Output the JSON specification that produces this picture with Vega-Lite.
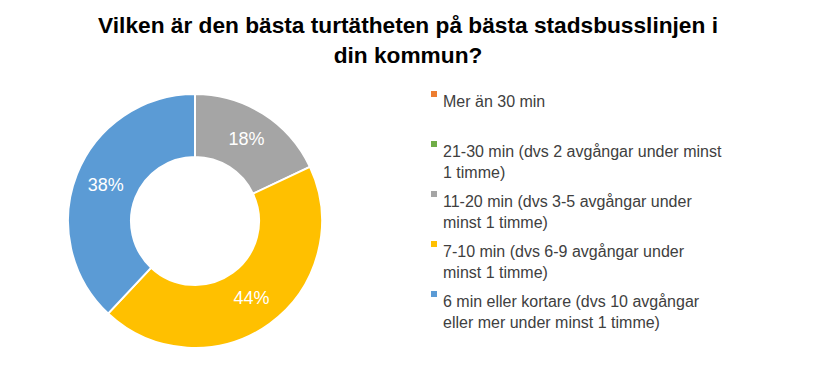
{
  "$schema": "https://vega.github.io/schema/vega-lite/v6.json",
  "autosize": {"type": "none"},
  "padding": {"left": 0, "top": 86, "right": 426, "bottom": 17},
  "width": 390,
  "height": 270,
  "background": "white",
  "title": {
    "text": ["Vilken är den bästa turtätheten på bästa stadsbusslinjen i", "din kommun?"],
    "font": "Liberation Sans",
    "fontSize": 22.7,
    "fontWeight": "bold",
    "color": "#000000",
    "anchor": "middle",
    "frame": "group",
    "dx": 213,
    "offset": 18,
    "lineHeight": 30
  },
  "data": {
    "values": [
      {"kategori": "Mer än 30 min", "ordning": 1, "andel": 0},
      {"kategori": "21-30 min (dvs 2 avgångar under minst 1 timme)", "ordning": 2, "andel": 0},
      {"kategori": "11-20 min (dvs 3-5 avgångar under minst 1 timme)", "ordning": 3, "andel": 0.18},
      {"kategori": "7-10 min (dvs 6-9 avgångar under minst 1 timme)", "ordning": 4, "andel": 0.44},
      {"kategori": "6 min eller kortare (dvs 10 avgångar eller mer under minst 1 timme)", "ordning": 5, "andel": 0.38}
    ]
  },
  "encoding": {
    "theta": {"field": "andel", "type": "quantitative", "stack": true},
    "order": {"field": "ordning", "type": "quantitative"}
  },
  "layer": [
    {
      "mark": {"type": "arc", "outerRadius": 127, "innerRadius": 64, "stroke": "white", "strokeWidth": 2},
      "encoding": {
        "color": {
          "field": "kategori",
          "type": "nominal",
          "sort": {"field": "ordning"},
          "scale": {
            "domain": [
              "Mer än 30 min",
              "21-30 min (dvs 2 avgångar under minst 1 timme)",
              "11-20 min (dvs 3-5 avgångar under minst 1 timme)",
              "7-10 min (dvs 6-9 avgångar under minst 1 timme)",
              "6 min eller kortare (dvs 10 avgångar eller mer under minst 1 timme)"
            ],
            "range": ["#ED7D31", "#70AD47", "#A5A5A5", "#FFC000", "#5B9BD5"]
          },
          "legend": {
            "title": null,
            "orient": "none",
            "legendX": 426,
            "legendY": 0,
            "symbolType": "square",
            "symbolSize": 36,
            "symbolStrokeWidth": 0,
            "symbolOffset": 0,
            "labelFont": "Liberation Sans",
            "labelFontSize": 16,
            "labelColor": "#404040",
            "labelLimit": 400,
            "labelOffset": 1,
            "labelBaseline": "top",
            "rowPadding": 5,
            "labelExpr": "datum.label == '21-30 min (dvs 2 avgångar under minst 1 timme)' ? ['21-30 min (dvs 2 avgångar under minst', '1 timme)'] : datum.label == '11-20 min (dvs 3-5 avgångar under minst 1 timme)' ? ['11-20 min (dvs 3-5 avgångar under', 'minst 1 timme)'] : datum.label == '7-10 min (dvs 6-9 avgångar under minst 1 timme)' ? ['7-10 min (dvs 6-9 avgångar under', 'minst 1 timme)'] : datum.label == '6 min eller kortare (dvs 10 avgångar eller mer under minst 1 timme)' ? ['6 min eller kortare (dvs 10 avgångar', 'eller mer under minst 1 timme)'] : [datum.label, ' ']"
          }
        }
      }
    },
    {
      "transform": [{"filter": "datum.andel > 0"}],
      "mark": {"type": "text", "radius": 96, "font": "Liberation Sans", "fontSize": 18, "color": "white"},
      "encoding": {
        "text": {"field": "andel", "type": "quantitative", "format": ".0%"}
      }
    }
  ],
  "config": {
    "view": {"stroke": null},
    "style": {"guide-label": {"lineHeight": 21}}
  }
}
